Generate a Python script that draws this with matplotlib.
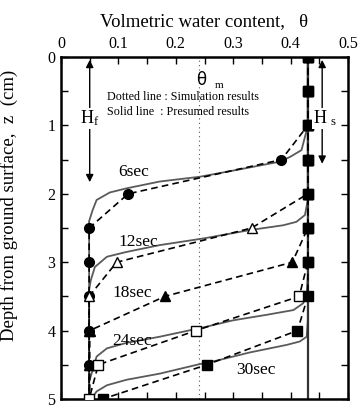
import matplotlib
matplotlib.use("Agg")
import matplotlib.pyplot as plt
from matplotlib.ticker import MultipleLocator

plt.rcParams['font.family'] = ['Liberation Serif', 'DejaVu Sans']
plt.rcParams['mathtext.fontset'] = 'custom'
plt.rcParams['mathtext.rm'] = 'Liberation Serif'

# simulation results (dashed lines with markers)
depth = [0, 0.5, 1.0, 1.5, 2.0, 2.5, 3.0, 3.5, 4.0, 4.5, 5.0]
sim_6 = [0.43, 0.43, 0.43, 0.384, 0.117, 0.049, 0.049, 0.049, 0.049, 0.049, 0.049]
sim_12 = [0.43, 0.43, 0.43, 0.43, 0.43, 0.332, 0.097, 0.049, 0.049, 0.049, 0.049]
sim_18 = [0.43, 0.43, 0.43, 0.43, 0.43, 0.43, 0.403, 0.181, 0.05, 0.05, 0.05]
sim_24 = [0.43, 0.43, 0.43, 0.43, 0.43, 0.43, 0.43, 0.415, 0.235, 0.065, 0.049]
sim_30 = [0.43, 0.43, 0.43, 0.43, 0.43, 0.43, 0.43, 0.43, 0.412, 0.254, 0.073]

# presumed results (solid gray curves)
pres_6_t = [0.43, 0.43, 0.428, 0.419, 0.399, 0.381, 0.30, 0.242, 0.172, 0.114, 0.085, 0.062, 0.055, 0.049, 0.049]
pres_6_d = [0.0, 0.9, 1.07, 1.36, 1.46, 1.53, 1.66, 1.75, 1.82, 1.92, 1.98, 2.09, 2.24, 2.4, 5.0]
pres_12_t = [0.43, 0.43, 0.431, 0.425, 0.41, 0.387, 0.329, 0.25, 0.172, 0.114, 0.08, 0.059, 0.052, 0.049, 0.049]
pres_12_d = [0.0, 1.9, 2.04, 2.31, 2.41, 2.46, 2.53, 2.65, 2.75, 2.85, 2.92, 3.07, 3.26, 3.4, 5.0]
pres_24_t = [0.43, 0.43, 0.428, 0.422, 0.405, 0.358, 0.30, 0.25, 0.172, 0.114, 0.08, 0.062, 0.055, 0.049, 0.049]
pres_24_d = [0.0, 3.2, 3.45, 3.6, 3.7, 3.77, 3.85, 3.95, 4.09, 4.18, 4.26, 4.38, 4.58, 4.75, 5.0]
pres_30_t = [0.43, 0.43, 0.428, 0.416, 0.393, 0.329, 0.271, 0.242, 0.172, 0.114, 0.08, 0.062, 0.053]
pres_30_d = [0.0, 3.85, 4.09, 4.16, 4.21, 4.32, 4.44, 4.49, 4.63, 4.72, 4.80, 4.89, 5.0]

theta_s = 0.43
theta_m = 0.24
labels = ['6sec', '12sec', '18sec', '24sec', '30sec']
label_pos = [(0.10, 1.68), (0.10, 2.70), (0.09, 3.45), (0.09, 4.16), (0.305, 4.58)]

fig = plt.figure(figsize=(3.61, 4.05), dpi=100)
ax = fig.add_axes([0.169, 0.015, 0.795, 0.844])

gray = '#5a5a5a'
# solid presumed curves
for t, d in [(pres_6_t, pres_6_d), (pres_12_t, pres_12_d), (pres_24_t, pres_24_d), (pres_30_t, pres_30_d)]:
    ax.plot(t, d, color=gray, lw=1.3, zorder=2)
ax.plot([theta_s, theta_s], [0, 5], color='#333333', lw=1.6, zorder=2)

# theta_m dotted line
ax.axvline(theta_m, color='#555555', lw=0.8, ls=(0, (1, 3)), zorder=1)

# simulation dashed lines with markers
styles = [
    (sim_6, 'o', 'black'),
    (sim_12, '^', 'white'),
    (sim_18, '^', 'black'),
    (sim_24, 's', 'white'),
    (sim_30, 's', 'black'),
]
for vals, m, fc in styles:
    ax.plot(vals, depth, color='black', lw=1.2, ls=(0, (4, 2.5)), zorder=3)
    ax.plot(vals, depth, ls='none', marker=m, ms=7, mfc=fc, mec='black', mew=1.0, zorder=4)

for lab, (x, y) in zip(labels, label_pos):
    ax.text(x, y, lab, fontsize=12.5, ha='left', va='center', zorder=5)

# annotations
ax.text(0.08, 0.58, 'Dotted line : Simulation results', fontsize=8.7, va='center')
ax.text(0.08, 0.80, 'Solid line  : Presumed results', fontsize=8.7, va='center')
ax.text(0.245, 0.33, 'θ', fontsize=12, va='center', ha='center', family=['DejaVu Sans'])
ax.text(0.268, 0.42, 'm', fontsize=8, va='center', ha='left')

ax.annotate('', xy=(0.05, 1.87), xytext=(0.05, 0.0),
            arrowprops=dict(arrowstyle='<|-|>', color='black', lw=1.0, mutation_scale=11), zorder=5)
ax.text(0.05, 0.9, r'$\mathregular{H_f}$', fontsize=13, ha='center', va='center',
        bbox=dict(facecolor='white', edgecolor='none', pad=0.5), zorder=6)
ax.annotate('', xy=(0.455, 1.6), xytext=(0.455, 0.0),
            arrowprops=dict(arrowstyle='<|-|>', color='black', lw=1.0, mutation_scale=11), zorder=5)
ax.text(0.46, 0.9, r'$\mathregular{H_{\ s}}$', fontsize=13, ha='center', va='center',
        bbox=dict(facecolor='white', edgecolor='none', pad=0.5), zorder=6)

ax.set_xlim(0, 0.5)
ax.set_ylim(5, 0)
ax.xaxis.tick_top()
ax.xaxis.set_label_position('top')
ax.set_xticks([0, 0.1, 0.2, 0.3, 0.4, 0.5])
ax.set_xticklabels(['0', '0.1', '0.2', '0.3', '0.4', '0.5'])
ax.xaxis.set_minor_locator(MultipleLocator(0.05))
ax.yaxis.set_major_locator(MultipleLocator(1))
ax.yaxis.set_minor_locator(MultipleLocator(0.5))
ax.tick_params(which='both', direction='in', top=True, bottom=True, left=True, right=True,
               length=5, width=1.0, labelsize=11.5, pad=4)
for s in ax.spines.values():
    s.set_linewidth(1.8)

ax.set_xlabel('Volmetric water content,   θ', fontsize=13.5, labelpad=7)
ax.set_ylabel('Depth from ground surface,  z  (cm)', fontsize=13.5)
ax.yaxis.set_label_coords(-0.15, 0.567)

fig.savefig('out.png', dpi=100)
